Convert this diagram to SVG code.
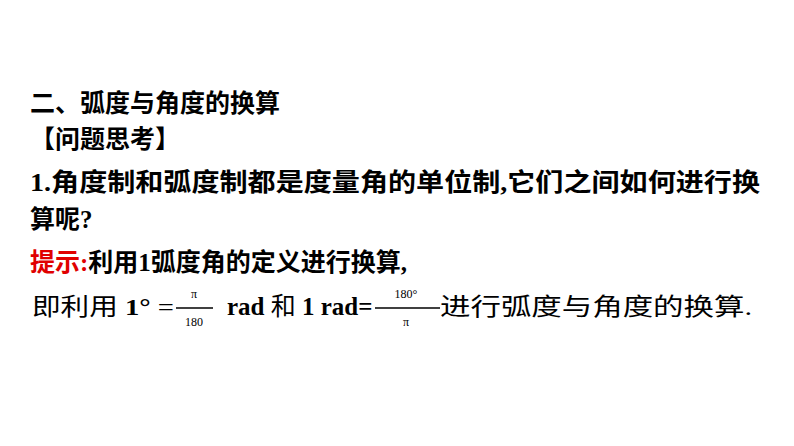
<svg xmlns="http://www.w3.org/2000/svg" width="794" height="446" viewBox="0 0 794 446">
<style>
.t{font-family:"Liberation Serif","Noto Sans CJK SC",serif;font-size:25px;font-weight:bold;fill:#000}
.n{font-family:"Liberation Serif","Noto Sans CJK SC",serif;font-size:24px;fill:#000}
.s{font-family:"Liberation Serif",serif;font-size:12px;fill:#000}
</style>
<rect width="794" height="446" fill="#fff"/>
<text class="t" x="30" y="112">二、弧度与角度的换算</text>
<text class="t" x="30" y="148">【问题思考】</text>
<text class="t" x="30" y="191" textLength="730" lengthAdjust="spacingAndGlyphs">1.角度制和弧度制都是度量角的单位制,它们之间如何进行换</text>
<text class="t" x="30" y="228">算呢?</text>
<text class="t" x="30" y="271"><tspan fill="#e00000">提示:</tspan>利用1弧度角的定义进行换算,</text>
<text class="n" x="32" y="315" textLength="142" lengthAdjust="spacingAndGlyphs">即利用 <tspan font-weight="bold">1°</tspan> =</text>
<line x1="176" y1="308" x2="213" y2="308" stroke="#000" stroke-width="1.5"/>
<text class="s" x="194" y="298" text-anchor="middle">π</text>
<text class="s" x="194" y="326" text-anchor="middle">180</text>
<text class="t" x="227" y="315">rad <tspan font-weight="normal">和</tspan> 1 rad=</text>
<line x1="375" y1="308" x2="440" y2="308" stroke="#000" stroke-width="1.5"/>
<text class="s" x="406" y="298" text-anchor="middle">180°</text>
<text class="s" x="406" y="326" text-anchor="middle">π</text>
<text class="n" x="440" y="315" textLength="312" lengthAdjust="spacingAndGlyphs">进行弧度与角度的换算.</text>
</svg>
